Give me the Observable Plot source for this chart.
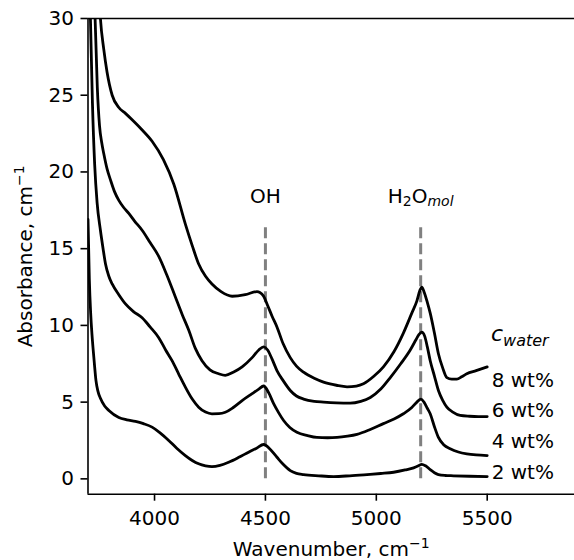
<!DOCTYPE html>
<html><head><meta charset="utf-8">
<script src="https://cdn.jsdelivr.net/npm/d3@7"></script>
<script src="https://cdn.jsdelivr.net/npm/@observablehq/plot@0.6"></script>
<style>body{margin:0;background:#fff}#chart{width:574px;height:560px}</style>
</head><body><div id="chart"></div>
<script>
// ---- data ----
const wn8  = [3745,3756,3771,3786,3809,3839,3870,3899,3940,3989,4040,4087,4139,4170,4199,4230,4259,4300,4350,4409,4462,4475,4492,4510,4530,4552,4580,4612,4640,4672,4720,4762,4820,4868,4910,4942,4990,5032,5080,5122,5160,5183,5197,5205,5215,5230,5243,5262,5280,5300,5318,5340,5363,5385,5408,5450,5500];
const abs8 = [33,30,28,26.5,25.0,24.2,23.8,23.4,22.8,22.0,20.8,19.2,16.6,15.2,14.0,13.2,12.7,12.2,11.9,12.0,12.2,12.15,11.9,11.3,10.6,9.9,8.8,7.9,7.35,6.95,6.55,6.3,6.1,6.0,6.05,6.2,6.7,7.3,8.3,9.5,10.8,11.6,12.3,12.5,12.2,11.5,10.8,9.5,8.15,7.2,6.6,6.5,6.5,6.65,6.85,7.05,7.3];

const wn6  = [3725,3732,3742,3752,3762,3771,3786,3801,3820,3839,3860,3884,3910,3944,3980,4019,4055,4094,4125,4154,4184,4214,4250,4289,4319,4355,4395,4440,4470,4492,4510,4530,4552,4580,4612,4640,4672,4720,4762,4820,4882,4930,4973,5020,5063,5110,5153,5180,5192,5205,5218,5230,5243,5262,5280,5300,5318,5345,5378,5420,5460,5500];
const abs6 = [34,30,25.5,23.0,21.9,21.2,20.2,19.5,18.7,18.15,17.7,17.3,16.8,16.2,15.4,14.5,13.3,11.85,10.7,9.7,8.5,7.7,7.1,6.85,6.75,6.95,7.3,7.9,8.4,8.6,8.4,7.8,7.06,6.4,5.76,5.4,5.2,5.05,5.0,4.95,4.93,5.05,5.3,5.85,6.6,7.5,8.4,9.1,9.4,9.56,9.3,8.6,7.7,6.7,5.76,5.1,4.67,4.35,4.13,4.08,4.06,4.06];

const wn4  = [3702,3711,3720,3730,3741,3756,3768,3779,3794,3809,3839,3869,3905,3944,3980,4019,4050,4079,4110,4139,4170,4199,4230,4259,4290,4319,4355,4395,4440,4470,4492,4515,4537,4560,4582,4610,4642,4690,4732,4780,4823,4870,4913,4970,5032,5080,5122,5160,5183,5201,5215,5230,5243,5262,5280,5305,5333,5370,5408,5450,5500];
const abs4 = [35,30,24.5,20.5,18.0,16.2,15.0,14.0,13.2,12.7,12.0,11.4,10.9,10.5,9.9,9.2,8.4,7.7,6.8,5.98,5.2,4.67,4.35,4.24,4.25,4.34,4.65,5.1,5.55,5.85,6.05,5.6,4.9,4.3,3.8,3.35,3.04,2.82,2.7,2.68,2.7,2.78,2.9,3.2,3.6,3.9,4.24,4.65,5.0,5.2,5.0,4.6,4.24,3.4,2.7,2.2,1.96,1.75,1.63,1.56,1.52];

const wn2  = [3700,3706,3712,3718,3724,3730,3736,3745,3756,3775,3794,3839,3875,3914,3950,3989,4025,4064,4100,4139,4170,4199,4230,4259,4295,4334,4380,4424,4460,4492,4520,4552,4580,4612,4640,4672,4740,4807,4880,4958,5020,5078,5130,5168,5190,5205,5222,5243,5262,5280,5310,5348,5420,5500];
const abs2 = [16.9,13.0,10.8,9.4,8.3,7.3,6.4,5.7,5.25,4.75,4.46,4.0,3.85,3.75,3.6,3.37,3.0,2.5,2.0,1.52,1.2,0.98,0.85,0.8,0.88,1.08,1.4,1.74,2.0,2.24,1.95,1.41,0.95,0.54,0.36,0.28,0.2,0.15,0.2,0.28,0.35,0.43,0.58,0.72,0.85,0.95,0.85,0.6,0.4,0.28,0.22,0.2,0.17,0.15];

const seriesNames  = ["8 wt%", "6 wt%", "4 wt%", "2 wt%"];
const labelY       = [6, 4, 2, 0];
const peakPositions = [4500, 5200];
const peakLabels   = ["OH", "H2Omol"];
const xTicks = [4000, 4500, 5000, 5500];
const yTicks = [0, 5, 10, 15, 20, 25, 30];

// ---- build table ----
const seriesData = [[wn8, abs8], [wn6, abs6], [wn4, abs4], [wn2, abs2]];
const rows = seriesData.flatMap(([wn, ab], k) => wn.map((w, i) => ({series: seriesNames[k], wn: w, a: ab[i]})));

const plot = Plot.plot({
  width: 574, height: 560,
  marginLeft: 87.5, marginRight: 0, marginTop: 18, marginBottom: 66.3,
  style: {fontFamily: "DejaVu Sans", fontSize: "20px", background: "#fff", color: "#000", overflow: "visible"},
  x: {domain: [3700, 5893.6]},
  y: {domain: [-1, 30]},
  marks: [
    Plot.axisX({ticks: xTicks, tickSize: 7, tickPadding: 10, label: null, tickFormat: d => String(d), strokeWidth: 1.6}),
    Plot.axisY({ticks: yTicks, tickSize: 7, tickPadding: 7, label: null, tickFormat: d => String(d), strokeWidth: 1.6}),
    Plot.ruleX(peakPositions, {y1: 0, y2: 16.6, stroke: "#808080", strokeWidth: 3, strokeDasharray: "11,5"}),
    Plot.line(rows, {x: "wn", y: "a", z: "series", stroke: "#000", strokeWidth: 2.8, curve: "monotone-x", clip: true}),
    Plot.ruleY([30], {stroke: "#000", strokeWidth: 1.6}),
    Plot.ruleY([-1], {stroke: "#000", strokeWidth: 1.6}),
    Plot.ruleX([3700], {y1: -1, y2: 30, stroke: "#000", strokeWidth: 1.6}),
    Plot.text(peakLabels, {x: peakPositions, y: 18, text: d => d, lineAnchor: "bottom", textAnchor: "middle", fill: "#000"}),
    Plot.text(seriesNames, {x: 5520, y: labelY, text: d => d, lineAnchor: "bottom", textAnchor: "start", fill: "#000"}),
    Plot.text(["cwater"], {x: 5517, y: 9, text: d => d, lineAnchor: "bottom", textAnchor: "start", fill: "#000"}),
    Plot.text(["Wavenumber, cm-1"], {frameAnchor: "bottom", dy: 61.5, lineAnchor: "bottom", textAnchor: "middle", fill: "#000"}),
    Plot.text(["Absorbance, cm-1"], {frameAnchor: "left", dx: -55.8, rotate: -90, lineAnchor: "bottom", textAnchor: "middle", fill: "#000"})
  ]
});
document.getElementById("chart").appendChild(plot);

// ---- rich text (sub/superscripts) ----
const NS = "http://www.w3.org/2000/svg";
function rich(el, parts) {
  el.textContent = "";
  let cur = 0;
  for (const p of parts) {
    const ts = document.createElementNS(NS, "tspan");
    ts.textContent = p.t;
    if (p.size) ts.setAttribute("font-size", p.size);
    if (p.italic) ts.setAttribute("font-style", "italic");
    const s = p.shift || 0;
    if (s !== cur) ts.setAttribute("dy", s - cur);
    cur = s;
    el.appendChild(ts);
  }
}
plot.querySelectorAll("text").forEach(el => {
  const t = el.textContent;
  if (t === "H2Omol") rich(el, [{t: "H"}, {t: "2", size: 14, shift: 3.4}, {t: "O", size: 20}, {t: "mol", size: 14, italic: true, shift: 3.4}]);
  else if (t === "cwater") rich(el, [{t: "c", size: 22, italic: true}, {t: "water", size: 16, italic: true, shift: 5}]);
  else if (t === "Wavenumber, cm-1") rich(el, [{t: "Wavenumber, cm"}, {t: "\u22121", size: 14, shift: -8}]);
  else if (t === "Absorbance, cm-1") rich(el, [{t: "Absorbance, cm"}, {t: "\u22121", size: 14, shift: -8}]);
});
</script>
</body></html>
